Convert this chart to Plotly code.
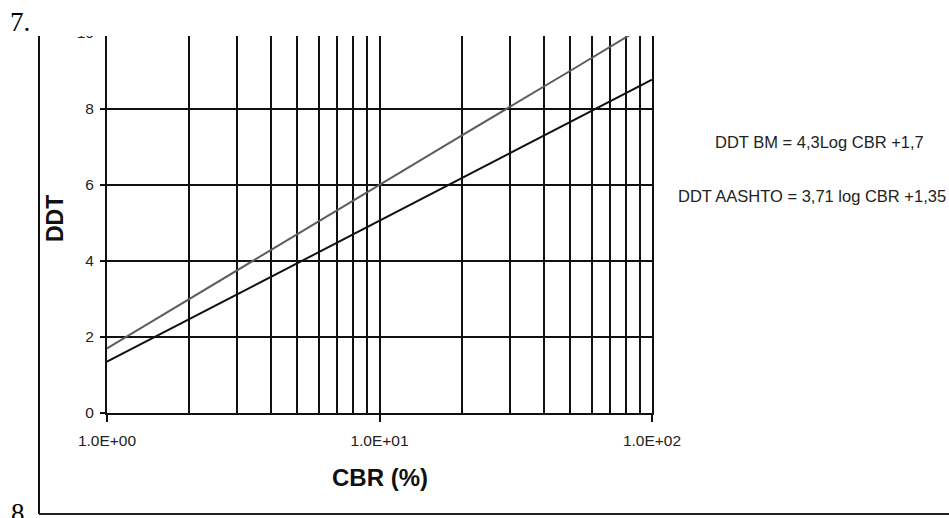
import plotly.graph_objects as go

# ---- data ----
cbr = [1, 2, 5, 10, 20, 50, 100]
ddt_bm = [1.7, 3.0, 4.7, 6.0, 7.3, 9.0, 10.3]
ddt_aashto = [1.35, 2.47, 3.94, 5.06, 6.18, 7.65, 8.77]

x_tickvals = [1, 10, 100]
x_ticktext = ["1.0E+00", "1.0E+01", "1.0E+02"]
x_minorvals = [2, 3, 4, 5, 6, 7, 8, 9, 20, 30, 40, 50, 60, 70, 80, 90]
y_tickvals = [0, 2, 4, 6, 8, 10]

eq_bm = "DDT BM = 4,3Log CBR +1,7"
eq_aashto = "DDT AASHTO = 3,71 log CBR +1,35"

# ---- layout geometry (screen pixels; body margin removed by post_script) ----
W, H = 949, 518
# plot area on screen: x 107..652, y 33..413
L, T = 107, 33
R = W - 652
B = H - 413
PW, PH = W - L - R, H - T - B


def px(x):
    return (x - L) / PW


def py(y):
    return (H - B - y) / PH


fig = go.Figure()
fig.add_trace(go.Scatter(x=cbr, y=ddt_bm, mode="lines",
                         line=dict(color="#5c5c5c", width=2), showlegend=False))
fig.add_trace(go.Scatter(x=cbr, y=ddt_aashto, mode="lines",
                         line=dict(color="#111111", width=2), showlegend=False))

axis_font = dict(family="Liberation Sans, Arial", size=15.5, color="#222")


def note(text, x, y, size, family="Liberation Sans, Arial", angle=0,
         xanchor="center", yanchor="middle", color="#111"):
    return dict(text=text, xref="paper", yref="paper", x=px(x), y=py(y),
                xanchor=xanchor, yanchor=yanchor, textangle=angle,
                showarrow=False, font=dict(family=family, size=size, color=color))


fig.update_layout(
    width=W, height=H,
    margin=dict(l=L, r=R, t=T, b=B, pad=0),
    paper_bgcolor="white", plot_bgcolor="white",
    xaxis=dict(type="log", range=[0, 2], tickmode="array",
               tickvals=x_tickvals, ticktext=x_ticktext,
               ticks="outside", ticklen=7, tickwidth=1.5, tickcolor="#111",
               tickfont=axis_font, ticklabelstandoff=5,
               showgrid=True, gridcolor="#111", gridwidth=2,
               minor=dict(tickmode="array", tickvals=x_minorvals, ticks="",
                          showgrid=True, gridcolor="#111", gridwidth=2),
               showline=True, linecolor="#111", linewidth=2, mirror=True,
               zeroline=False),
    yaxis=dict(range=[0, 10], tickmode="array", tickvals=y_tickvals,
               ticks="outside", ticklen=5, tickwidth=1.5, tickcolor="#111",
               tickfont=axis_font, ticklabelstandoff=3,
               showgrid=True, gridcolor="#111", gridwidth=2,
               showline=True, linecolor="#111", linewidth=2, mirror=True,
               zeroline=False),
    shapes=[
        # white band: the scanned page is cropped at the top
        dict(type="rect", xref="paper", yref="paper", layer="above",
             x0=px(-5), x1=px(W + 5), y0=py(36), y1=py(-5),
             fillcolor="white", line=dict(width=0)),
        # page frame
        dict(type="line", xref="paper", yref="paper", layer="above",
             x0=px(39), x1=px(39), y0=py(36), y1=py(514),
             line=dict(color="#111", width=2)),
        dict(type="line", xref="paper", yref="paper", layer="above",
             x0=px(39), x1=px(W + 5), y0=py(514), y1=py(514),
             line=dict(color="#222", width=2)),
    ],
    annotations=[
        note("<b>CBR (%)</b>", 380, 477, 24),
        note("<b>DDT</b>", 55, 219, 23, angle=-90),
        note(eq_bm, 819, 142, 16.5, color="#222"),
        note(eq_aashto, 812, 196, 16.5, color="#222"),
        note("7.", 8, 22, 27, family="Liberation Serif, Times New Roman",
             xanchor="left", color="#000"),
        note("8", 9, 496, 27, family="Liberation Serif, Times New Roman",
             xanchor="left", yanchor="top", color="#000"),
    ],
)

fig.write_html(
    "out.html",
    config={"displayModeBar": False},
    post_script="document.body.style.margin='0';"
                "document.body.style.overflow='hidden';"
                "document.documentElement.style.overflow='hidden';",
)
